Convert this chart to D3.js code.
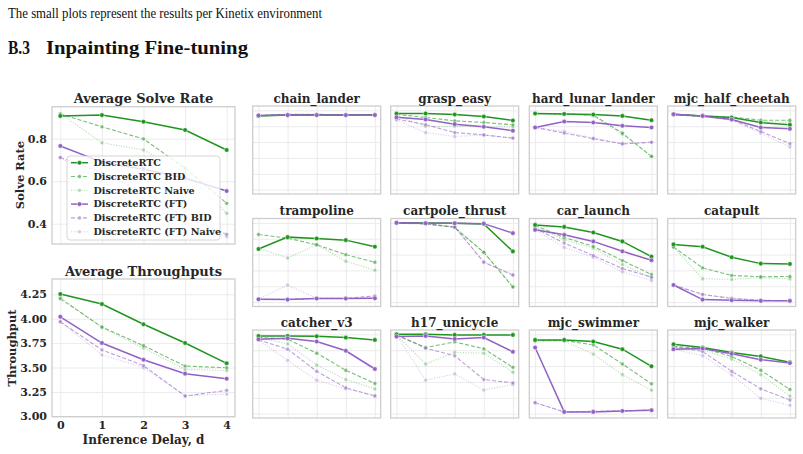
<!DOCTYPE html>
<html>
<head>
<meta charset="utf-8">
<script src="https://cdn.jsdelivr.net/npm/d3@7"></script>
<style>
  body { margin: 0; background: #fff; }
  svg { display: block; }
</style>
</head>
<body>
<div id="fig"></div>
<script>
// ---- data ----
var delays = [0, 1, 2, 3, 4];
var seriesNames = ["DiscreteRTC", "DiscreteRTC BID", "DiscreteRTC Naive",
  "DiscreteRTC (FT)", "DiscreteRTC (FT) BID", "DiscreteRTC (FT) Naive"];

var avgSolve = [
  [0.907, 0.911, 0.880, 0.841, 0.747],
  [0.916, 0.856, 0.799, 0.661, 0.496],
  [0.918, 0.781, 0.747, 0.640, 0.449],
  [0.766, 0.690, 0.656, 0.614, 0.554],
  [0.712, 0.640, 0.550, 0.430, 0.350],
  [0.710, 0.600, 0.520, 0.400, 0.339]
];
var avgThroughput = [
  [4.253, 4.150, 3.943, 3.751, 3.543],
  [4.205, 3.915, 3.724, 3.515, 3.498],
  [4.220, 3.910, 3.700, 3.480, 3.470],
  [4.020, 3.751, 3.580, 3.437, 3.385],
  [3.969, 3.680, 3.520, 3.208, 3.266],
  [3.970, 3.630, 3.500, 3.210, 3.228]
];
var solveTicks = [0.4, 0.6, 0.8];
var throughputTicks = [3.00, 3.25, 3.50, 3.75, 4.00, 4.25];
var envTicks = [0, 0.2, 0.4, 0.6, 0.8, 1.0];

var envNames = ["chain_lander", "grasp_easy", "hard_lunar_lander", "mjc_half_cheetah",
  "trampoline", "cartpole_thrust", "car_launch", "catapult",
  "catcher_v3", "h17_unicycle", "mjc_swimmer", "mjc_walker"];

var chainLander = [
  [0.930, 0.940, 0.945, 0.940, 0.945],
  [0.935, 0.945, 0.945, 0.945, 0.945],
  [0.935, 0.940, 0.945, 0.940, 0.945],
  [0.935, 0.940, 0.940, 0.940, 0.940],
  [0.935, 0.950, 0.950, 0.945, 0.945],
  [0.935, 0.945, 0.945, 0.945, 0.945]
];
var graspEasy = [
  [0.959, 0.960, 0.947, 0.922, 0.872],
  [0.950, 0.910, 0.868, 0.847, 0.818],
  [0.930, 0.800, 0.800, 0.790, 0.790],
  [0.913, 0.885, 0.826, 0.793, 0.743],
  [0.890, 0.820, 0.720, 0.690, 0.650],
  [0.880, 0.720, 0.670, 0.690, 0.650]
];
var hardLunarLander = [
  [0.960, 0.955, 0.947, 0.930, 0.876],
  [0.960, 0.955, 0.940, 0.713, 0.420],
  [0.960, 0.950, 0.930, 0.700, 0.420],
  [0.784, 0.859, 0.847, 0.805, 0.784],
  [0.784, 0.713, 0.643, 0.576, 0.597],
  [0.784, 0.734, 0.650, 0.585, 0.600]
];
var mjcHalfCheetah = [
  [0.951, 0.930, 0.909, 0.846, 0.818],
  [0.951, 0.930, 0.917, 0.876, 0.876],
  [0.943, 0.922, 0.900, 0.859, 0.850],
  [0.951, 0.930, 0.884, 0.784, 0.767],
  [0.943, 0.922, 0.884, 0.734, 0.580],
  [0.943, 0.922, 0.876, 0.713, 0.538]
];
var trampoline = [
  [0.670, 0.820, 0.803, 0.782, 0.699],
  [0.853, 0.807, 0.724, 0.599, 0.503],
  [0.682, 0.557, 0.724, 0.516, 0.403],
  [0.036, 0.032, 0.045, 0.045, 0.049],
  [0.036, 0.036, 0.049, 0.049, 0.078],
  [0.040, 0.216, 0.049, 0.045, 0.066]
];
var cartpoleThrust = [
  [1.000, 0.999, 0.995, 0.987, 0.640],
  [0.995, 0.990, 0.940, 0.628, 0.190],
  [0.995, 0.985, 0.945, 0.630, 0.200],
  [1.000, 0.995, 0.995, 0.990, 0.870],
  [0.995, 0.990, 0.950, 0.503, 0.340],
  [0.995, 0.985, 0.950, 0.510, 0.350]
];
var carLaunch = [
  [0.974, 0.949, 0.878, 0.766, 0.574],
  [0.966, 0.816, 0.703, 0.524, 0.349],
  [0.950, 0.787, 0.682, 0.474, 0.307],
  [0.912, 0.849, 0.766, 0.641, 0.528],
  [0.932, 0.745, 0.587, 0.424, 0.316],
  [0.912, 0.690, 0.566, 0.382, 0.274]
];
var catapult = [
  [0.728, 0.699, 0.566, 0.486, 0.482],
  [0.695, 0.432, 0.337, 0.320, 0.324],
  [0.695, 0.295, 0.287, 0.307, 0.295],
  [0.216, 0.032, 0.024, 0.016, 0.016],
  [0.216, 0.099, 0.045, 0.024, 0.016],
  [0.216, 0.090, 0.055, 0.024, 0.016]
];
var catcherV3 = [
  [0.980, 0.980, 0.976, 0.959, 0.930],
  [0.963, 0.938, 0.763, 0.547, 0.380],
  [0.963, 0.880, 0.613, 0.430, 0.313],
  [0.938, 0.950, 0.909, 0.793, 0.563],
  [0.930, 0.813, 0.534, 0.326, 0.222],
  [0.930, 0.672, 0.422, 0.313, 0.230]
];
var h17Unicycle = [
  [1.000, 1.000, 0.993, 0.993, 0.993],
  [0.993, 0.834, 0.905, 0.818, 0.584],
  [0.993, 0.626, 0.772, 0.763, 0.522],
  [0.972, 0.980, 0.943, 0.959, 0.780],
  [0.993, 0.826, 0.730, 0.430, 0.388],
  [0.993, 0.422, 0.501, 0.297, 0.368]
];
var mjcSwimmer = [
  [0.930, 0.930, 0.909, 0.813, 0.597],
  [0.922, 0.922, 0.868, 0.626, 0.376],
  [0.909, 0.917, 0.751, 0.492, 0.297],
  [0.834, 0.022, 0.022, 0.034, 0.043],
  [0.138, 0.022, 0.030, 0.034, 0.047],
  [0.138, 0.022, 0.030, 0.034, 0.047]
];
var mjcWalker = [
  [0.876, 0.834, 0.772, 0.722, 0.647],
  [0.847, 0.826, 0.722, 0.547, 0.305],
  [0.834, 0.805, 0.688, 0.492, 0.222],
  [0.813, 0.822, 0.755, 0.680, 0.638],
  [0.847, 0.784, 0.534, 0.313, 0.172],
  [0.813, 0.730, 0.488, 0.193, 0.105]
];
var envData = [chainLander, graspEasy, hardLunarLander, mjcHalfCheetah,
  trampoline, cartpoleThrust, carLaunch, catapult,
  catcherV3, h17Unicycle, mjcSwimmer, mjcWalker];

// ---- styles ----
var green = "#1f951f";
var purple = "#9161c4";
var seriesColor = [green, green, green, purple, purple, purple];
var seriesDash = [null, "4,2", "1,1.6", null, "4,2", "1,1.6"];
var seriesOpacity = [1, 0.6, 0.35, 1, 0.6, 0.35];
var seriesWidth = [1.5, 1.1, 1.1, 1.5, 1.1, 1.1];
var serif = "'DejaVu Serif', serif";
var times = "'Liberation Serif', 'Times New Roman', serif";
var textColor = "#262626";
var gridColor = "#ebebeb";
var spineColor = "#cccccc";

var svgWidth = 803;
var svgHeight = 454;

var svg = d3.select("#fig")
  .append("svg")
  .attr("width", svgWidth)
  .attr("height", svgHeight)
  .style("font-family", serif);

// page text above the figure
svg.append("text")
  .attr("x", 8).attr("y", 18)
  .attr("font-family", times)
  .attr("font-size", 14.5)
  .attr("fill", "#111")
  .attr("textLength", 314)
  .attr("lengthAdjust", "spacingAndGlyphs")
  .text("The small plots represent the results per Kinetix environment");

svg.append("text")
  .attr("x", 8).attr("y", 54)
  .attr("font-family", times)
  .attr("font-size", 19)
  .attr("font-weight", "bold")
  .attr("fill", "#111")
  .attr("textLength", 22)
  .attr("lengthAdjust", "spacingAndGlyphs")
  .text("B.3");
svg.append("text")
  .attr("x", 46).attr("y", 54)
  .attr("font-family", times)
  .attr("font-size", 19)
  .attr("font-weight", "bold")
  .attr("fill", "#111")
  .attr("textLength", 202)
  .attr("lengthAdjust", "spacingAndGlyphs")
  .text("Inpainting Fine-tuning");

// draw one panel with gridlines, spines, lines and markers
function drawPanel(opts) {
  var g = svg.append("g")
    .attr("transform", `translate(${opts.left}, ${opts.top})`);

  var x = d3.scaleLinear().domain([-0.2, 4.2]).range([0, opts.width]);
  var y = d3.scaleLinear().domain(opts.yDomain).range([opts.height, 0]);

  // grid
  g.append("g")
    .call(d3.axisBottom(x).tickValues(delays).tickSize(opts.height).tickFormat(""))
    .call(a => a.select(".domain").remove())
    .call(a => a.selectAll("line").attr("stroke", gridColor).attr("stroke-width", 1));
  g.append("g")
    .call(d3.axisLeft(y).tickValues(opts.yTicks).tickSize(-opts.width).tickFormat(""))
    .call(a => a.select(".domain").remove())
    .call(a => a.selectAll("line").attr("stroke", gridColor).attr("stroke-width", 1));

  // tick labels
  if (opts.yLabels) {
    g.append("g")
      .call(d3.axisLeft(y).tickValues(opts.yTicks).tickSize(0).tickPadding(5)
        .tickFormat(opts.yFormat))
      .call(a => a.select(".domain").remove())
      .call(a => a.selectAll("text")
        .attr("font-family", serif).attr("font-size", 11)
        .attr("font-weight", "bold").attr("fill", textColor));
  }
  if (opts.xLabels) {
    g.append("g")
      .attr("transform", `translate(0, ${opts.height})`)
      .call(d3.axisBottom(x).tickValues(delays).tickSize(0).tickPadding(5)
        .tickFormat(d3.format("d")))
      .call(a => a.select(".domain").remove())
      .call(a => a.selectAll("text")
        .attr("font-family", serif).attr("font-size", 11)
        .attr("font-weight", "bold").attr("fill", textColor));
  }

  // lines, draw faint series first
  var order = [2, 5, 1, 4, 0, 3];
  var line = d3.line()
    .x((d, i) => x(delays[i]))
    .y(d => y(d));

  order.forEach(function(s) {
    var vals = opts.data[s];
    var sg = g.append("g").attr("opacity", seriesOpacity[s]);
    sg.append("path")
      .datum(vals)
      .attr("d", line)
      .attr("fill", "none")
      .attr("stroke", seriesColor[s])
      .attr("stroke-width", seriesWidth[s])
      .attr("stroke-dasharray", seriesDash[s]);
    sg.selectAll("circle")
      .data(vals)
      .enter()
      .append("circle")
      .attr("cx", (d, i) => x(delays[i]))
      .attr("cy", d => y(d))
      .attr("r", s % 3 === 0 ? 2.3 : 1.9)
      .attr("fill", seriesColor[s])
      .attr("stroke", "#fff")
      .attr("stroke-width", 0.5);
  });

  // spines
  g.append("rect")
    .attr("x", 0).attr("y", 0)
    .attr("width", opts.width).attr("height", opts.height)
    .attr("fill", "none")
    .attr("stroke", spineColor)
    .attr("stroke-width", 1.25);

  // title
  g.append("text")
    .attr("x", opts.width / 2)
    .attr("y", -3.5)
    .attr("text-anchor", "middle")
    .attr("font-size", opts.titleSize)
    .attr("font-weight", "bold")
    .attr("fill", textColor)
    .text(opts.title);

  return g;
}

// ---- left summary panels ----
drawPanel({
  left: 52, top: 106.7, width: 183, height: 137.3,
  yDomain: [0.3045, 0.9506], yTicks: solveTicks, yLabels: true, yFormat: d3.format(".1f"),
  xLabels: false, data: avgSolve, title: "Average Solve Rate", titleSize: 13
});

drawPanel({
  left: 52, top: 279, width: 183, height: 137.7,
  yDomain: [2.996, 4.407], yTicks: throughputTicks, yLabels: true, yFormat: d3.format(".2f"),
  xLabels: true, data: avgThroughput, title: "Average Throughputs", titleSize: 13
});

// axis labels
svg.append("text")
  .attr("transform", "translate(24, 175) rotate(-90)")
  .attr("text-anchor", "middle")
  .attr("font-size", 11.5).attr("font-weight", "bold").attr("fill", textColor)
  .text("Solve Rate");
svg.append("text")
  .attr("transform", "translate(16, 348) rotate(-90)")
  .attr("text-anchor", "middle")
  .attr("font-size", 11.5).attr("font-weight", "bold").attr("fill", textColor)
  .text("Throughput");
svg.append("text")
  .attr("x", 143.5).attr("y", 444)
  .attr("text-anchor", "middle")
  .attr("font-size", 12).attr("font-weight", "bold").attr("fill", textColor)
  .text("Inference Delay, d");

// legend
var legend = svg.append("g").attr("transform", "translate(67, 156)");
legend.append("rect")
  .attr("width", 153).attr("height", 84)
  .attr("rx", 3)
  .attr("fill", "#fff").attr("fill-opacity", 0.8)
  .attr("stroke", spineColor).attr("stroke-width", 0.8);
seriesNames.forEach(function(name, s) {
  var row = legend.append("g")
    .attr("transform", `translate(0, ${6.7 + s * 13.8})`);
  var h = row.append("g").attr("opacity", seriesOpacity[s]);
  h.append("line")
    .attr("x1", 4).attr("x2", 21)
    .attr("stroke", seriesColor[s])
    .attr("stroke-width", seriesWidth[s])
    .attr("stroke-dasharray", seriesDash[s]);
  h.append("circle")
    .attr("cx", 12.5).attr("r", s % 3 === 0 ? 2.3 : 1.9)
    .attr("fill", seriesColor[s]).attr("stroke", "#fff").attr("stroke-width", 0.5);
  row.append("text")
    .attr("x", 26.5).attr("dy", "0.35em")
    .attr("font-size", 9.6).attr("font-weight", "bold").attr("fill", textColor)
    .text(name);
});

// ---- per-environment panels ----
var colLefts = [252.7, 390.7, 529.3, 667.7];
var rowTops = [106, 218.5, 330];

envNames.forEach(function(name, i) {
  drawPanel({
    left: colLefts[i % 4], top: rowTops[Math.floor(i / 4)], width: 128, height: 88,
    yDomain: [-0.055, 1.055], yTicks: envTicks, yLabels: false, xLabels: false,
    data: envData[i], title: name, titleSize: 12
  });
});
</script>
</body>
</html>
